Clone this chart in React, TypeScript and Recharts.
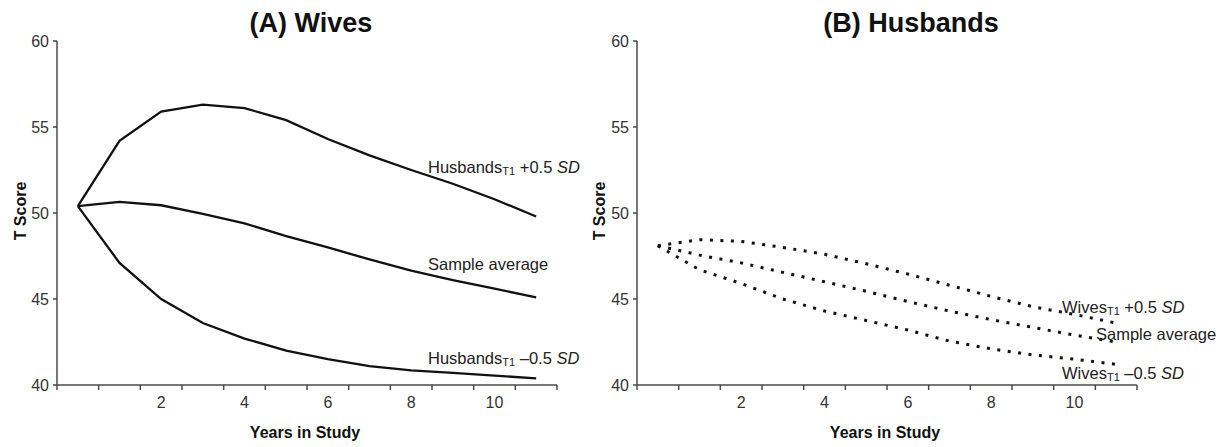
import { Line, LineChart, XAxis, YAxis } from 'recharts'

// years in study (category index, one band per year)
const years = [0, 1, 2, 3, 4, 5, 6, 7, 8, 9, 10, 11]
const yearLabels = [2, 4, 6, 8, 10]
const scoreTicks = [40, 45, 50, 55, 60]

// (A) wives, by husbands' T1 level
const wivesHigh = [50.4, 54.2, 55.9, 56.3, 56.1, 55.4, 54.3, 53.35, 52.5, 51.7, 50.8, 49.8]
const wivesAvg = [50.4, 50.65, 50.45, 49.95, 49.4, 48.65, 48.0, 47.3, 46.65, 46.1, 45.6, 45.1]
const wivesLow = [50.4, 47.1, 45.0, 43.6, 42.7, 42.0, 41.5, 41.1, 40.85, 40.7, 40.55, 40.38]

// (B) husbands, by wives' T1 level
const husbandsHigh = [48.1, 48.45, 48.35, 48.0, 47.6, 47.05, 46.45, 45.8, 45.15, 44.55, 44.1, 43.6]
const husbandsAvg = [48.1, 47.55, 47.1, 46.55, 46.0, 45.45, 44.85, 44.3, 43.8, 43.35, 42.9, 42.5]
const husbandsLow = [48.1, 46.7, 45.9, 45.0, 44.3, 43.75, 43.2, 42.55, 42.1, 41.75, 41.5, 41.2]

const boundaries = [...years.map((y) => y - 0.5), years.length - 0.5]

const FONT = '"Liberation Sans", Arial, sans-serif'
const AXIS = '#4a4a4a'
const CHART_W = 600
const CHART_H = 447
const Y_AXIS_W = 57
const MARGIN = { top: 41, right: 43, bottom: 32, left: 0 }
const PLOT_W = CHART_W - Y_AXIS_W - MARGIN.right
const HALF_BAND = PLOT_W / years.length / 2

const wivesData = years.map((year, i) => ({
  year,
  high: wivesHigh[i],
  avg: wivesAvg[i],
  low: wivesLow[i],
}))

const husbandsData = years.map((year, i) => ({
  year,
  high: husbandsHigh[i],
  avg: husbandsAvg[i],
  low: husbandsLow[i],
}))

function YearTick({ x, y, payload }: any) {
  const label = payload.value + 0.5
  if (!yearLabels.includes(label)) return null
  return (
    <text
      x={x + HALF_BAND}
      y={y}
      dy="0.71em"
      textAnchor="middle"
      fill="#333"
      fontSize={16}
      fontFamily={FONT}
    >
      {label}
    </text>
  )
}

function Panel({ data, dotted }: { data: typeof wivesData; dotted?: boolean }) {
  const lineProps = {
    type: 'linear' as const,
    stroke: '#111',
    strokeWidth: dotted ? 3 : 2.3,
    strokeDasharray: dotted ? '3 7.5' : undefined,
    dot: false,
    isAnimationActive: false,
  }
  return (
    <LineChart width={CHART_W} height={CHART_H} data={data} margin={MARGIN}>
      <XAxis
        dataKey="year"
        type="number"
        domain={[-0.5, years.length - 0.5]}
        ticks={boundaries}
        interval={0}
        height={30}
        tickSize={5}
        tickMargin={7}
        stroke={AXIS}
        strokeWidth={1.5}
        tick={<YearTick />}
      />
      <YAxis
        type="number"
        domain={[40, 60]}
        ticks={scoreTicks}
        width={Y_AXIS_W}
        tickSize={4}
        tickMargin={4}
        stroke={AXIS}
        strokeWidth={1.5}
        tick={{ fill: '#333', fontSize: 16, fontFamily: FONT }}
      />
      <Line dataKey="high" {...lineProps} />
      <Line dataKey="avg" {...lineProps} />
      <Line dataKey="low" {...lineProps} />
    </LineChart>
  )
}

function SeriesLabel({ x, y, who, sign }: { x: number; y: number; who: string; sign: string }) {
  return (
    <text x={x} y={y} dominantBaseline="central" fontSize={16.5} fill="#222">
      {who}
      <tspan fontSize={11} dy={4}>T1</tspan>
      <tspan dy={-4}>{'  ' + sign + '0.5 '}</tspan>
      <tspan fontStyle="italic">SD</tspan>
    </text>
  )
}

export default function App() {
  return (
    <div
      style={{
        position: 'absolute',
        left: 0,
        top: 0,
        width: 1220,
        height: 447,
        background: '#fff',
        fontFamily: FONT,
      }}
    >
      <div style={{ position: 'absolute', left: 0, top: 0 }}>
        <Panel data={wivesData} />
      </div>
      <div style={{ position: 'absolute', left: 580, top: 0 }}>
        <Panel data={husbandsData} dotted />
      </div>
      <svg
        width={1220}
        height={447}
        style={{ position: 'absolute', left: 0, top: 0, pointerEvents: 'none' }}
        fontFamily={FONT}
      >
        <g fontWeight="bold" fill="#111" textAnchor="middle" dominantBaseline="central">
          <text x={311} y={23} fontSize={27}>(A) Wives</text>
          <text x={911} y={23} fontSize={27}>(B) Husbands</text>
          <text x={305} y={432} fontSize={16}>Years in Study</text>
          <text x={885} y={432} fontSize={16}>Years in Study</text>
          <text x={20} y={211} fontSize={16} transform="rotate(-90 20 211)">T Score</text>
          <text x={599} y={211} fontSize={16} transform="rotate(-90 599 211)">T Score</text>
        </g>
        <SeriesLabel x={428} y={167} who="Husbands" sign="+" />
        <text x={428} y={264} dominantBaseline="central" fontSize={16.5} fill="#222">
          Sample average
        </text>
        <SeriesLabel x={428} y={358} who="Husbands" sign="–" />
        <SeriesLabel x={1062} y={307} who="Wives" sign="+" />
        <text x={1096} y={334} dominantBaseline="central" fontSize={16.5} fill="#222">
          Sample average
        </text>
        <SeriesLabel x={1062} y={373} who="Wives" sign="–" />
      </svg>
    </div>
  )
}
